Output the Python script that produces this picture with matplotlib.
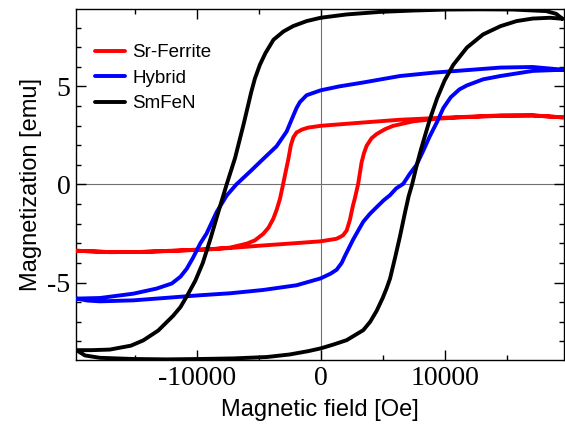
import matplotlib
matplotlib.use('Agg')
import matplotlib.pyplot as plt
from matplotlib.ticker import MultipleLocator

# Hysteresis loops
# each loop: descending branch (+H -> -H) then ascending branch (-H -> +H)
srf_h_down = [19570, 17100, 14500, 11800, 9100, 6400, 3440, 0, -1000, -1500, -1940, -2200,
              -2400, -2600, -2800, -3020, -3280, -3550, -3820, -4200, -4630, -5300, -5970,
              -7300, -8700, -11500, -14400, -17000, -19700]
srf_m_down = [3.42, 3.52, 3.52, 3.45, 3.38, 3.30, 3.16, 2.99, 2.90, 2.80, 2.65, 2.40,
              2.00, 1.30, 0.70, 0.03, -0.74, -1.30, -1.75, -2.20, -2.52, -2.85, -3.02,
              -3.22, -3.30, -3.38, -3.44, -3.45, -3.38]
srf_h_up = [-19700, -17000, -14400, -11700, -9000, -7300, -4630, -1940, 0, 1290, 1800, 2100,
            2365, 2600, 2765, 3030, 3305, 3500, 3710, 4100, 4515, 5200, 5855, 7470, 9355,
            11235, 14500, 17100, 19570]
srf_m_up = [-3.38, -3.45, -3.44, -3.37, -3.30, -3.24, -3.11, -2.99, -2.90, -2.77, -2.60, -2.35,
            -1.80, -1.10, -0.70, 0.03, 1.13, 1.60, 1.97, 2.35, 2.57, 2.82, 2.99, 3.22, 3.35,
            3.42, 3.50, 3.52, 3.42]

hyb_h_down = [19570, 17100, 14500, 11800, 9100, 6400, 3440, 1500, 0, -1130, -1670, -1940,
              -2210, -2740, -3550, -4630, -5700, -6800, -7580, -8390, -9195, -9700, -10300,
              -10800, -11300, -12000, -13230, -15110, -17800, -19700]
hyb_m_down = [5.85, 5.99, 5.96, 5.83, 5.70, 5.53, 5.20, 5.00, 4.80, 4.55, 4.20, 3.90,
              3.50, 2.70, 1.95, 1.30, 0.65, 0.00, -0.57, -1.41, -2.50, -3.00, -3.75,
              -4.30, -4.70, -5.05, -5.31, -5.57, -5.79, -5.82]
hyb_h_up = [-19700, -18800, -17800, -15100, -12400, -9730, -7315, -4630, -1940, 0, 800, 1290,
            1700, 1960, 2630, 3440, 3975, 4515, 5100, 5590, 6100, 6660, 7200, 7740, 8300,
            8800, 9400, 9900, 10500, 11200, 11800, 13100, 14500, 17100, 19570]
hyb_m_up = [-5.82, -5.92, -5.96, -5.91, -5.78, -5.65, -5.55, -5.38, -5.14, -4.79, -4.55, -4.35,
            -4.00, -3.65, -2.80, -1.90, -1.50, -1.16, -0.80, -0.55, -0.20, 0.03, 0.55, 1.00, 1.75,
            2.45, 3.20, 3.90, 4.45, 4.85, 5.05, 5.36, 5.53, 5.79, 5.85]

smfen_h_down = [19500, 19000, 18200, 15500, 12800, 10200, 7500, 4800, 2100, 0, -1130, -2200,
                -3000, -3800, -4450, -4900, -5300, -5600, -6200, -6900, -7580, -8200, -8900,
                -9500, -10100, -10700, -11300, -11900, -13100, -14300, -15300, -17000, -18500,
                -19700]
smfen_m_down = [8.45, 8.70, 8.84, 8.92, 8.93, 8.92, 8.87, 8.80, 8.67, 8.50, 8.33, 8.08,
                7.80, 7.38, 6.70, 6.10, 5.40, 4.70, 3.10, 1.35, 0.00, -1.30, -2.80,
                -4.00, -4.90, -5.60, -6.25, -6.70, -7.45, -7.95, -8.22, -8.42, -8.45,
                -8.45]
smfen_h_up = [-19700, -19000, -17800, -15100, -12400, -9700, -7000, -4350, -2500, -1000, 0,
              1000, 2100, 3440, 4000, 4515, 5000, 5320, 5600, 6000, 6400, 6800, 7100, 7380,
              7740, 8100, 8800, 9400, 10000, 10700, 11800, 13100, 14500, 15800, 17100, 18500,
              19500]
smfen_m_up = [-8.45, -8.72, -8.84, -8.90, -8.92, -8.90, -8.87, -8.80, -8.67, -8.50, -8.36,
              -8.17, -7.94, -7.43, -7.00, -6.45, -5.80, -5.30, -4.80, -3.75, -2.65, -1.45, -0.60,
              0.00, 0.95, 1.80, 3.30, 4.40, 5.30, 6.10, 6.98, 7.65, 8.07, 8.33, 8.46, 8.50,
              8.45]

plt.rcParams['axes.unicode_minus'] = False

fig = plt.figure(figsize=(5.65, 4.26), dpi=100)
ax = fig.add_axes([0.1345, 0.155, 0.8635, 0.824])

ax.axhline(0, color='#707070', lw=0.8, zorder=1)
ax.axvline(0, color='#707070', lw=0.8, zorder=1)

ax.plot(srf_h_down + srf_h_up, srf_m_down + srf_m_up, color='#ff0000', lw=2.8,
        label='Sr-Ferrite', solid_capstyle='round', zorder=3)
ax.plot(hyb_h_down + hyb_h_up, hyb_m_down + hyb_m_up, color='#0000ff', lw=2.8,
        label='Hybrid', solid_capstyle='round', zorder=3)
ax.plot(smfen_h_down + smfen_h_up, smfen_m_down + smfen_m_up, color='black', lw=2.8,
        label='SmFeN', solid_capstyle='round', zorder=3)

ax.set_xlim(-19730, 19620)
ax.set_ylim(-8.95, 8.95)

ax.xaxis.set_major_locator(MultipleLocator(10000))
ax.xaxis.set_minor_locator(MultipleLocator(5000))
ax.yaxis.set_major_locator(MultipleLocator(5))
ax.yaxis.set_minor_locator(MultipleLocator(1))
ax.tick_params(which='both', direction='in', top=True, right=True, width=1.0)
ax.tick_params(which='major', length=7, labelsize=20, pad=4)
ax.tick_params(which='minor', length=3.5)
for lab in ax.get_xticklabels() + ax.get_yticklabels():
    lab.set_fontfamily('Liberation Serif')
for sp in ax.spines.values():
    sp.set_linewidth(1.0)

ax.set_xlabel('Magnetic field [Oe]', fontsize=17, family='Liberation Sans', labelpad=6)
ax.set_ylabel('Magnetization [emu]', fontsize=17, family='Liberation Sans', labelpad=4)

ax.legend(loc='upper left', bbox_to_anchor=(0.039, 0.90), frameon=False, borderaxespad=0,
          borderpad=0, handlelength=1.6, handletextpad=0.4, labelspacing=0.45,
          prop={'family': 'Liberation Sans', 'size': 13.5})

fig.savefig('out.png', dpi=100)
